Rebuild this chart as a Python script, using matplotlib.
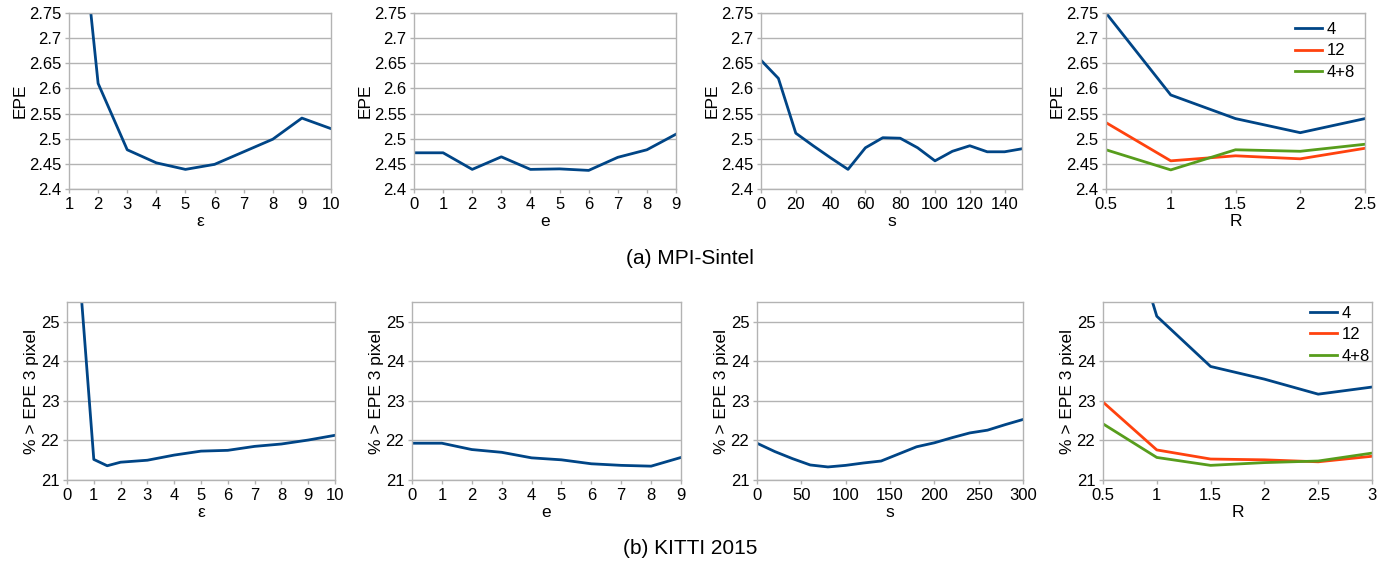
import numpy as np
import matplotlib
matplotlib.use("Agg")
import matplotlib.pyplot as plt
from matplotlib.ticker import FuncFormatter

plt.rcParams['font.family'] = ['Liberation Sans', 'DejaVu Sans']
plt.rcParams['font.size'] = 12

BLUE = '#004586'
ORANGE = '#ff420e'
GREEN = '#579d1c'
GRAY = '#b3b3b3'

# --- MPI-Sintel (EPE) ---
eps_a = [1, 2, 3, 4, 5, 6, 7, 8, 9, 10]
epe_eps_a = [3.17, 2.61, 2.478, 2.452, 2.439, 2.449, 2.474, 2.499, 2.541, 2.520]

e_a = [0, 1, 2, 3, 4, 5, 6, 7, 8, 9]
epe_e_a = [2.472, 2.472, 2.439, 2.464, 2.439, 2.440, 2.437, 2.463, 2.478, 2.509]

s_a = [0, 10, 20, 30, 40, 50, 60, 70, 80, 90, 100, 110, 120, 130, 140, 150]
epe_s_a = [2.656, 2.620, 2.511, 2.486, 2.462, 2.439, 2.482, 2.502, 2.501, 2.482,
           2.456, 2.475, 2.486, 2.474, 2.474, 2.480]

R_a = [0.5, 1, 1.5, 2, 2.5]
epe_R4_a = [2.75, 2.587, 2.540, 2.512, 2.540]
epe_R12_a = [2.532, 2.456, 2.466, 2.460, 2.481]
epe_R48_a = [2.478, 2.438, 2.478, 2.475, 2.489]

# --- KITTI 2015 (% > EPE 3 pixel) ---
eps_b = [0.5, 1, 1.5, 2, 3, 4, 5, 6, 7, 8, 9, 10]
out_eps_b = [25.95, 21.52, 21.36, 21.45, 21.50, 21.63, 21.73, 21.75, 21.85, 21.91, 22.01, 22.13]

e_b = [0, 1, 2, 3, 4, 5, 6, 7, 8, 9]
out_e_b = [21.93, 21.93, 21.77, 21.70, 21.56, 21.51, 21.41, 21.37, 21.35, 21.57]

s_b = [0, 20, 40, 60, 80, 100, 120, 140, 160, 180, 200, 220, 240, 260, 280, 300]
out_s_b = [21.93, 21.72, 21.54, 21.38, 21.33, 21.37, 21.43, 21.48, 21.66, 21.84,
           21.94, 22.07, 22.19, 22.26, 22.40, 22.53]

R_b = [0.5, 1, 1.5, 2, 2.5, 3]
out_R4_b = [29.6, 25.14, 23.87, 23.55, 23.17, 23.35]
out_R12_b = [22.97, 21.76, 21.53, 21.51, 21.46, 21.60]
out_R48_b = [22.42, 21.57, 21.37, 21.44, 21.48, 21.68]

W, H = 1390, 565
fig = plt.figure(figsize=(W / 100, H / 100), dpi=100)


def make_ax(x0, x1, y0, y1):
    return fig.add_axes([x0 / W, 1 - y1 / H, (x1 - x0) / W, (y1 - y0) / H])


def style(ax, xlim, xticks, ylim, yticks, xlabel, ylabel):
    ax.set_xlim(xlim)
    ax.set_ylim(ylim)
    ax.set_xticks(xticks)
    ax.set_yticks(yticks)
    ax.xaxis.set_major_formatter(FuncFormatter(lambda v, p: '%g' % v))
    ax.yaxis.set_major_formatter(FuncFormatter(lambda v, p: '%g' % round(v, 3)))
    ax.grid(axis='y', color=GRAY, lw=1)
    ax.set_axisbelow(True)
    for sp in ax.spines.values():
        sp.set_color(GRAY)
        sp.set_linewidth(1)
    ax.tick_params(color=GRAY, length=3, width=1, labelsize=12, pad=2.5)
    ax.set_xlabel(xlabel, fontsize=12.5, labelpad=2)
    ax.set_ylabel(ylabel, fontsize=12.5, labelpad=1)


def legend(ax, anchor):
    ax.legend(loc='upper right', frameon=False, fontsize=12, handlelength=1.6,
              handletextpad=0.3, labelspacing=0.4, borderaxespad=0, borderpad=0,
              bbox_to_anchor=anchor)


lw = 2
ya = (2.4, 2.75)
yta = [2.4, 2.45, 2.5, 2.55, 2.6, 2.65, 2.7, 2.75]
yb = (21, 25.5)
ytb = [21, 22, 23, 24, 25]
lab_b = '% > EPE 3 pixel'

# top row
ax = make_ax(69, 331, 13, 189)
ax.plot(eps_a, epe_eps_a, color=BLUE, lw=lw)
style(ax, (1, 10), eps_a, ya, yta, 'ε', 'EPE')

ax = make_ax(414, 676, 13, 189)
ax.plot(e_a, epe_e_a, color=BLUE, lw=lw)
style(ax, (0, 9), e_a, ya, yta, 'e', 'EPE')

ax = make_ax(761, 1022, 13, 189)
ax.plot(s_a, epe_s_a, color=BLUE, lw=lw)
style(ax, (0, 150), list(range(0, 151, 20)), ya, yta, 's', 'EPE')

ax = make_ax(1106, 1365, 13, 189)
ax.plot(R_a, epe_R4_a, color=BLUE, lw=lw, label='4')
ax.plot(R_a, epe_R12_a, color=ORANGE, lw=lw, label='12')
ax.plot(R_a, epe_R48_a, color=GREEN, lw=lw, label='4+8')
style(ax, (0.5, 2.5), R_a, ya, yta, 'R', 'EPE')
legend(ax, (0.962, 0.95))

# bottom row
ax = make_ax(67, 335, 302, 480)
ax.plot(eps_b, out_eps_b, color=BLUE, lw=lw)
style(ax, (0, 10), list(range(0, 11)), yb, ytb, 'ε', lab_b)

ax = make_ax(412, 681, 302, 480)
ax.plot(e_b, out_e_b, color=BLUE, lw=lw)
style(ax, (0, 9), e_b, yb, ytb, 'e', lab_b)

ax = make_ax(757, 1023, 302, 480)
ax.plot(s_b, out_s_b, color=BLUE, lw=lw)
style(ax, (0, 300), list(range(0, 301, 50)), yb, ytb, 's', lab_b)

ax = make_ax(1103, 1372, 302, 480)
ax.plot(R_b, out_R4_b, color=BLUE, lw=lw, label='4')
ax.plot(R_b, out_R12_b, color=ORANGE, lw=lw, label='12')
ax.plot(R_b, out_R48_b, color=GREEN, lw=lw, label='4+8')
style(ax, (0.5, 3), R_b, yb, ytb, 'R', lab_b)
legend(ax, (0.993, 0.98))

fig.text(690 / W, 1 - 258 / H, '(a) MPI-Sintel', ha='center', va='center', fontsize=15)
fig.text(690 / W, 1 - 548 / H, '(b) KITTI 2015', ha='center', va='center', fontsize=15)

fig.savefig('out.png', dpi=100)
